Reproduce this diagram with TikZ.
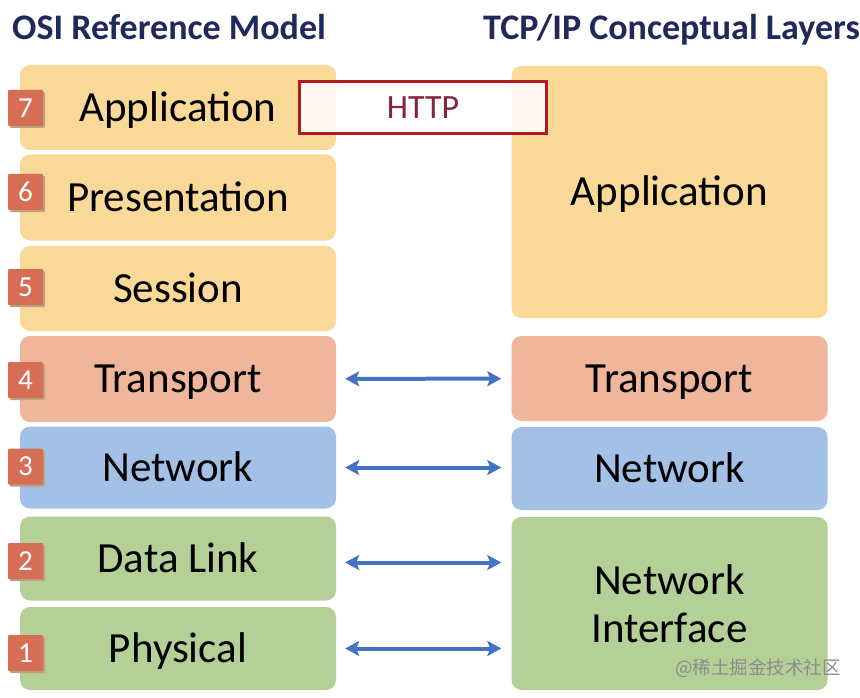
\documentclass[tikz,border=0pt]{standalone}
\usepackage{fontspec}
\setmainfont{Carlito}
\newfontfamily\cjk{Noto Sans CJK SC}
\usetikzlibrary{arrows.meta}

% Colours
\definecolor{appcol}{RGB}{249,216,152}
\definecolor{transcol}{RGB}{240,182,155}
\definecolor{netcol}{RGB}{163,193,230}
\definecolor{linkcol}{RGB}{180,208,150}
\definecolor{badgecol}{RGB}{214,110,86}
\definecolor{shadowcol}{RGB}{190,160,130}
\definecolor{arrowcol}{RGB}{68,114,196}
\definecolor{titlecol}{RGB}{31,42,90}
\definecolor{httpred}{RGB}{178,28,32}
\definecolor{httptext}{RGB}{135,35,60}

\tikzset{
	layer/.style={rounded corners=10pt, minimum width=316pt, inner sep=0pt,
		font=\fontsize{43}{48}\selectfont, text height=27.5pt, text depth=0pt},
	badge/.style={fill=badgecol, rounded corners=1pt, minimum width=35pt,
		minimum height=36pt, inner sep=0pt, text=white, font=\fontsize{29}{29}\selectfont,
		text height=18.5pt, text depth=0pt},
	badgeshadow/.style={fill=shadowcol, rounded corners=1pt, minimum width=35pt,
		minimum height=36pt, inner sep=0pt},
	title/.style={anchor=base west, inner sep=0pt, text=titlecol,
		font=\bfseries\fontsize{36}{36}\selectfont},
	arr/.style={draw=arrowcol, line width=4pt, shorten <=9pt, shorten >=10pt,
		{Stealth[length=14pt,width=15pt,inset=3pt]}-{Stealth[length=14pt,width=15pt,inset=3pt]}}
}

\begin{document}
\begin{tikzpicture}[x=1pt, y=-1pt]
	\useasboundingbox (0,0) rectangle (860,698);
	
	% Titles
	\node[title] (osititle) at (12,40) {OSI Reference Model};
	\node[title] (tcptitle) at (483,40) {TCP/IP Conceptual Layers};
	
	% OSI layers
	\node[layer, fill=appcol,   minimum height=85pt] (app)   at (178,107.5) {Application};
	\node[layer, fill=appcol,   minimum height=86pt] (pres)  at (178,197.5) {Presentation};
	\node[layer, fill=appcol,   minimum height=85pt] (sess)  at (178,288.5) {Session};
	\node[layer, fill=transcol, minimum height=86pt] (trans) at (178,379)   {Transport};
	\node[layer, fill=netcol,   minimum height=82pt] (net)   at (178,467.5) {Network};
	\node[layer, fill=linkcol,  minimum height=84pt] (dl)    at (178,558.5) {Data Link};
	\node[layer, fill=linkcol,  minimum height=83pt] (phys)  at (178,648.5) {Physical};
	
	% Layer numbers
	\coordinate (b7) at (25.5,108);
	\coordinate (b6) at (25.5,192);
	\coordinate (b5) at (25.5,287);
	\coordinate (b4) at (25.5,380);
	\coordinate (b3) at (25.5,466.5);
	\coordinate (b2) at (25.5,561);
	\coordinate (b1) at (25.5,653);
	\foreach \b in {1,...,7}
		\node[badgeshadow] (s\b) at ([xshift=2pt, yshift=-2pt]b\b) {};
	\node[badge] (n7) at (b7) {7};
	\node[badge] (n6) at (b6) {6};
	\node[badge] (n5) at (b5) {5};
	\node[badge] (n4) at (b4) {4};
	\node[badge] (n3) at (b3) {3};
	\node[badge] (n2) at (b2) {2};
	\node[badge] (n1) at (b1) {1};
	
	% TCP/IP layers
	\node[layer, fill=appcol,   minimum height=252pt] (tapp)   at (669.5,192)   {Application};
	\node[layer, fill=transcol, minimum height=85pt]  (ttrans) at (669.5,378.5) {Transport};
	\node[layer, fill=netcol,   minimum height=83pt]  (tnet)   at (669.5,468.5) {Network};
	\node[layer, fill=linkcol,  minimum height=173pt, align=center, text height={}, text depth={}]
		(tni) at (669.5,603.5) {Network\\Interface};
	
	% HTTP box across the application layers
	\node[draw=httpred, line width=3.2pt, fill=white, fill opacity=0.88, text opacity=1,
		minimum width=247pt, minimum height=52pt, text=httptext, inner sep=0pt,
		text height=22pt, text depth=0pt,
		font=\fontsize{34}{34}\selectfont] (http) at (423,107.5) {HTTP};
	
	% Arrows between the models
	\coordinate (dlarr) at ([yshift=-4pt]dl.east);
	\draw[arr] (trans) -- (ttrans);
	\draw[arr] (net) -- (net -| tnet.west);
	\draw[arr] (dlarr) -- (dlarr -| tni.west);
	\draw[arr] (phys.east) -- (phys.east -| tni.west);
	
	% Watermark
	\node[text=black!45, font=\cjk\fontsize{18.5}{18.5}\selectfont] (mark) at (758,668) {@稀土掘金技术社区};
	
\end{tikzpicture}
\end{document}
